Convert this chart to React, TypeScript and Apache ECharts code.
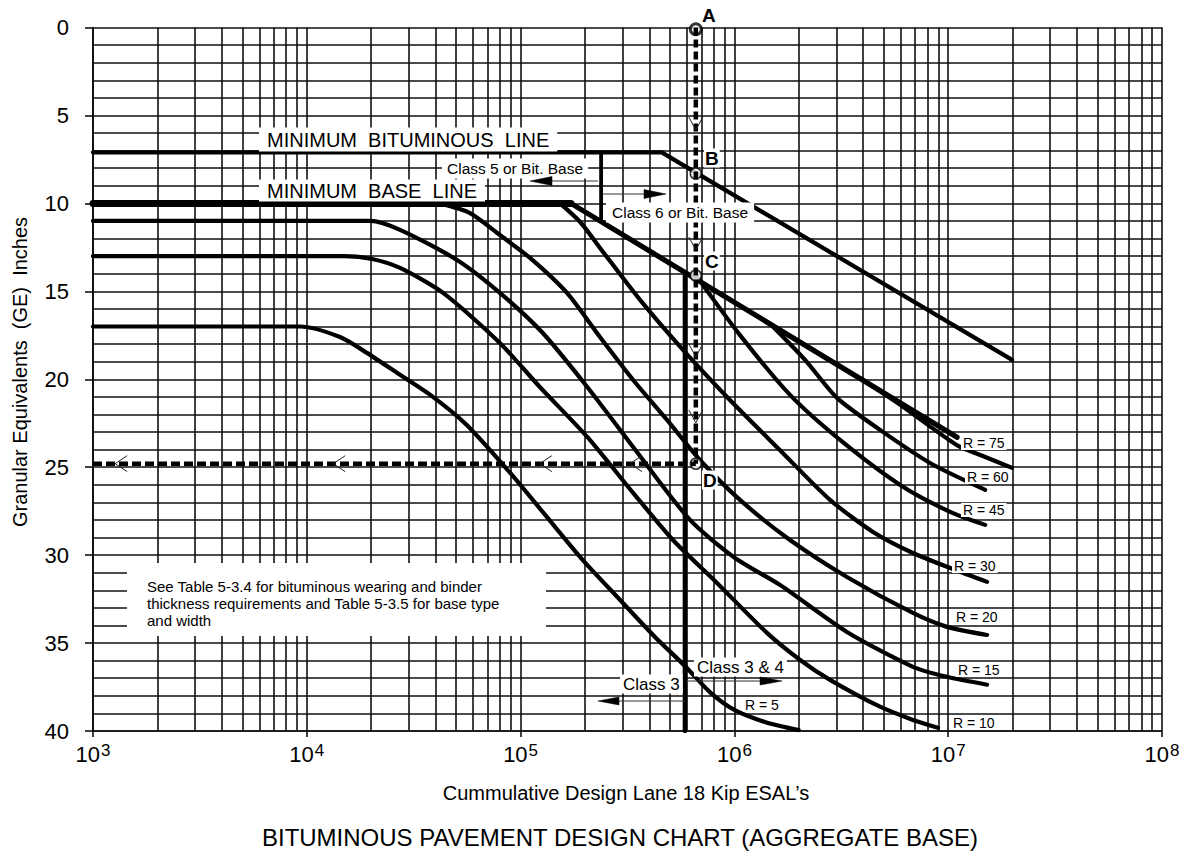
import React, { useEffect, useRef } from "react";
import * as echarts from "echarts";

const FONT = "'Liberation Sans', Arial, Helvetica, sans-serif";

// ---- Axis extents ----
const xMin = 1e3;
const xMax = 1e8;
const yMin = 0;
const yMax = 40;

// ---- Design limit lines ----
const minBituminousLine: [number, number][] = [[1e3, 7.1], [4.57e5, 7.1], [1.99e7, 18.9]];
const minBaseLine: [number, number][] = [[1e3, 10], [1.72e5, 10], [1.1e7, 23.3]];
const class5Divider: [number, number][] = [[2.38e5, 7.1], [2.38e5, 11.0]];
const class3Divider: [number, number][] = [[5.87e5, 13.9], [5.87e5, 40]];

// ---- R-value curves (ESAL, GE inches) ----
const curveR5: [number, number][] = [
  [1e3, 17], [9.3e3, 17], [1.43e4, 17.6], [1.91e4, 18.5], [2.73e4, 19.75], [3.89e4, 21.0],
  [5.6e4, 22.6], [8.9e4, 25.3], [1.3e5, 27.7], [1.96e5, 30.3], [2.92e5, 32.55], [4.25e5, 34.65],
  [5.87e5, 36.3], [7.7e5, 37.8], [1.0e6, 38.8], [1.4e6, 39.5], [2.0e6, 39.95],
];
const curveR10: [number, number][] = [
  [1e3, 13], [1.51e4, 13], [2.02e4, 13.16], [2.73e4, 13.67], [4.34e4, 15.09], [8.0e4, 17.94],
  [1.23e5, 20.44], [2.05e5, 23.28], [3.36e5, 26.46], [5.16e5, 29.14], [8.29e5, 31.58],
  [1.42e6, 34.42], [2.03e6, 35.96], [2.8e6, 37.09], [4.8e6, 38.62], [6.84e6, 39.37], [8.96e6, 39.82],
];
const curveR15: [number, number][] = [
  [1e3, 11], [1.98e4, 11], [2.73e4, 11.51], [5.04e4, 13.22], [8.0e4, 15.09], [1.27e5, 17.37],
  [2.05e5, 20.44], [3.36e5, 23.85], [6.2e5, 28.0], [1.007e6, 30.16], [1.63e6, 31.69],
  [3.36e6, 34.37], [6.84e6, 36.35], [9.87e6, 36.92], [1.52e7, 37.37],
];
const curveR20: [number, number][] = [
  [4.2e4, 10], [5.8e4, 10.55], [8.0e4, 11.8], [1.107e5, 13.1], [1.648e5, 15.09], [2.35e5, 17.6],
  [3.36e5, 20.04], [4.84e5, 22.31], [6.9e5, 24.59], [1.062e6, 26.86], [1.82e6, 29.14],
  [3.36e6, 31.24], [6.84e6, 33.29], [9.87e6, 34.08], [1.52e7, 34.54],
];
const curveR30: [number, number][] = [
  [1.528e5, 10], [1.9e5, 11.06], [2.43e5, 12.76], [3.62e5, 15.49], [5.75e5, 18.33], [9.53e5, 21.18],
  [1.63e6, 24.02], [2.8e6, 26.86], [4.45e6, 28.68], [6.84e6, 29.88], [1.05e7, 30.79], [1.52e7, 31.52],
];
const curveR45: [number, number][] = [
  [6.68e5, 14.18], [1.062e6, 17.49], [1.82e6, 20.89], [3.12e6, 23.45], [5.96e6, 26.01],
  [1.02e7, 27.54], [1.49e7, 28.28],
];
const curveR60: [number, number][] = [
  [1.52e6, 17.03], [2.14e6, 18.9], [3.02e6, 21.06], [4.8e6, 22.88], [8.22e6, 24.76], [1.49e7, 26.29],
];
const curveR75: [number, number][] = [
  [3.86e6, 19.93], [5.96e6, 21.45], [1.1e7, 23.75], [1.49e7, 24.42], [1.99e7, 25.04],
];

// ---- Design example (A -> B -> C -> D) ----
const designESAL = 6.6e5;
const designGE = 24.8;
const designVertical: [number, number][] = [[designESAL, 0], [designESAL, designGE]];
const designHorizontal: [number, number][] = [[1e3, designGE], [designESAL, designGE]];
const designPointNames = ["A", "B", "C", "D"];
const designPointGE = [0.1, 8.3, 14.1, 24.8];
const leftChevronESAL = [1.27e3, 1.33e4, 1.23e5, 3.25e5];
const downChevronGE = [5.83, 12.65, 18.73, 22.48];

export default function App() {
  const ref = useRef<HTMLDivElement>(null);

  useEffect(() => {
    const el = ref.current;
    if (!el) return;
    const chart = echarts.init(el, null, { renderer: "svg" });

    const minorGridX: number[] = [];
    for (let k = 3; k < 8; k++) {
      for (let m = 2; m <= 9; m++) minorGridX.push(m * Math.pow(10, k));
    }

    const gridLineStyle = { color: "#111", width: 1.6 };
    const curve = (name: string, data: [number, number][], width = 4.2, smooth: number | boolean = 0.25) => ({
      name,
      type: "line",
      data,
      showSymbol: false,
      symbol: "none",
      smooth,
      lineStyle: { color: "#000", width, cap: "round", join: "round" },
      z: 3,
      silent: true,
      animation: false,
    });

    const text = (t: string, x: number, y: number, size: number, opts: any = {}) => ({
      type: "text",
      x,
      y,
      z: 100,
      silent: true,
      style: {
        text: t,
        fontSize: size,
        fontFamily: FONT,
        fill: "#000",
        align: opts.align || "left",
        verticalAlign: opts.verticalAlign || "middle",
        fontWeight: opts.bold ? "bold" : "normal",
        backgroundColor: opts.bg ? "#fff" : undefined,
        padding: opts.padding || 0,
        lineHeight: opts.lineHeight,
      },
      rotation: opts.rotation || 0,
    });

    const arrowLine = (x1: number, y1: number, x2: number, y2: number) => ({
      type: "line",
      z: 100,
      silent: true,
      shape: { x1, y1, x2, y2 },
      style: { stroke: "#333", lineWidth: 1 },
    });
    const arrowHead = (pts: number[][]) => ({
      type: "polygon",
      z: 100,
      silent: true,
      shape: { points: pts },
      style: { fill: "#000", stroke: "#000", lineWidth: 0.5 },
    });

    const option: any = {
      animation: false,
      backgroundColor: "#fff",
      grid: { left: 93, right: 31, top: 27.5, bottom: 124, containLabel: false },
      xAxis: {
        type: "log",
        logBase: 10,
        min: xMin,
        max: xMax,
        splitNumber: 5,
        axisLine: { show: true, onZero: false, lineStyle: { color: "#111", width: 1.6 } },
        axisTick: { show: true, length: 6, lineStyle: { color: "#111", width: 1.6 } },
        splitLine: { show: true, lineStyle: gridLineStyle },
        axisLabel: {
          margin: 11,
          formatter: (v: number) => {
            const e = Math.round(Math.log10(v));
            return `{a|10}{b|${e}}`;
          },
          rich: {
            a: { fontSize: 22, fontFamily: FONT, color: "#000", lineHeight: 24 },
            b: { fontSize: 17, fontFamily: FONT, color: "#000", verticalAlign: "top", padding: [0, 0, 0, 1] },
          },
        },
      },
      yAxis: {
        type: "value",
        inverse: true,
        min: yMin,
        max: yMax,
        interval: 5,
        axisLine: { show: true, lineStyle: { color: "#111", width: 1.6 } },
        axisTick: { show: true, length: 8, lineStyle: { color: "#111", width: 1.6 } },
        minorTick: { show: false, splitNumber: 5 },
        splitLine: { show: true, lineStyle: gridLineStyle },
        minorSplitLine: { show: true, lineStyle: gridLineStyle },
        axisLabel: { fontSize: 22, fontFamily: FONT, color: "#000", margin: 24 },
      },
      series: [
        {
          name: "grid-minor-x",
          type: "lines",
          coordinateSystem: "cartesian2d",
          silent: true,
          z: 1,
          lineStyle: { color: "#111", width: 1.6, opacity: 1 },
          data: minorGridX.map((v) => ({ coords: [[v, yMin], [v, yMax]] })),
        },
        curve("Minimum Bituminous Line", minBituminousLine, 4.2, false),
        curve("Minimum Base Line (flat)", minBaseLine.slice(0, 2), 7, false),
        curve("Minimum Base Line", minBaseLine.slice(1), 5.2, false),
        curve("Class 5 divider", class5Divider, 3.8, false),
        curve("Class 3 divider", class3Divider, 4.5, false),
        curve("R = 5", curveR5),
        curve("R = 10", curveR10),
        curve("R = 15", curveR15),
        curve("R = 20", curveR20),
        curve("R = 30", curveR30),
        curve("R = 45", curveR45),
        curve("R = 60", curveR60),
        curve("R = 75", curveR75),
        {
          name: "design points",
          type: "scatter",
          symbol: "circle",
          symbolSize: 11,
          z: 5,
          silent: true,
          itemStyle: { color: "#fff", borderColor: "#000", borderWidth: 1.6 },
          data: designPointNames.map((n, i) => ({
            name: n,
            value: [designESAL, designPointGE[i]],
            itemStyle: i === 0 ? { borderWidth: 3 } : undefined,
          })),
        },
        {
          name: "design vertical",
          type: "line",
          data: designVertical,
          showSymbol: false,
          symbol: "none",
          z: 6,
          silent: true,
          lineStyle: { color: "#000", width: 4.5, type: [8, 4], cap: "butt" },
        },
        {
          name: "design horizontal",
          type: "line",
          data: designHorizontal,
          showSymbol: false,
          symbol: "none",
          z: 6,
          silent: true,
          lineStyle: { color: "#000", width: 4.5, type: [9, 4], cap: "butt" },
        },
        {
          name: "left chevrons",
          type: "custom",
          z: 7,
          silent: true,
          data: leftChevronESAL.map((x) => [x, designGE]),
          renderItem: (_p: any, api: any) => {
            const p = api.coord([api.value(0), api.value(1)]);
            return {
              type: "polyline",
              shape: { points: [[p[0] + 12, p[1] - 8], [p[0], p[1]], [p[0] + 12, p[1] + 8]] },
              style: { stroke: "#222", fill: "none", lineWidth: 1 },
            };
          },
        },
        {
          name: "down chevrons",
          type: "custom",
          z: 7,
          silent: true,
          data: downChevronGE.map((y) => [designESAL, y]),
          renderItem: (_p: any, api: any) => {
            const p = api.coord([api.value(0), api.value(1)]);
            return {
              type: "polyline",
              shape: { points: [[p[0] - 7, p[1] - 13], [p[0], p[1]], [p[0] + 7, p[1] - 13]] },
              style: { stroke: "#222", fill: "none", lineWidth: 1 },
            };
          },
        },
      ],
      graphic: {
        elements: [
          {
            type: "rect",
            z: 90,
            silent: true,
            shape: { x: 127, y: 563, width: 419, height: 73 },
            style: { fill: "#fff" },
          },
          text(
            "See Table 5-3.4 for bituminous wearing and binder\nthickness requirements and Table 5-3.5 for base type\nand width",
            147,
            578,
            15,
            { verticalAlign: "top", lineHeight: 17 }
          ),
          text("MINIMUM  BITUMINOUS  LINE", 259, 139.5, 20, { bg: true, padding: [2, 8] }),
          text("MINIMUM  BASE  LINE", 259, 190.5, 20, { bg: true, padding: [1, 8] }),
          text("Class 5 or Bit. Base", 442, 168.5, 15.5, { bg: true, padding: [2, 5] }),
          text("Class 6 or Bit. Base", 606, 212.5, 15.5, { bg: true, padding: [2, 6] }),
          text("Class 3 & 4", 694, 667, 17, { bg: true, padding: [1, 3] }),
          text("Class 3", 620, 684, 17, { bg: true, padding: [1, 3] }),
          arrowLine(552, 181, 598, 181),
          arrowHead([[530, 181], [552, 176.5], [552, 185.5]]),
          arrowLine(603, 194, 645, 194),
          arrowHead([[666, 194], [644, 189.5], [644, 198.5]]),
          arrowLine(686, 681, 760, 681),
          arrowHead([[782, 681], [760, 677], [760, 685]]),
          arrowLine(619, 701, 685, 701),
          arrowHead([[598, 701], [619, 697], [619, 705]]),
          text("R = 75", 961, 443, 14, { bg: true, padding: [0, 2] }),
          text("R = 60", 965, 477, 14, { bg: true, padding: [0, 2] }),
          text("R = 45", 961, 510, 14, { bg: true, padding: [0, 2] }),
          text("R = 30", 952, 566, 14, { bg: true, padding: [0, 2] }),
          text("R = 20", 954, 617, 14, { bg: true, padding: [0, 2] }),
          text("R = 15", 956, 670, 14, { bg: true, padding: [0, 2] }),
          text("R = 10", 951, 723, 14, { bg: true, padding: [0, 2] }),
          text("R = 5", 743, 705, 14, { bg: true, padding: [0, 2] }),
          text("A", 702, 15, 19, { bold: true }),
          text("B", 704, 158, 19, { bold: true, bg: true, padding: [0, 1] }),
          text("C", 704, 261, 19, { bold: true, bg: true, padding: [0, 1] }),
          text("D", 702, 480, 19, { bold: true, bg: true, padding: [0, 1] }),
          text("Granular Equivalents  (GE)  Inches", 20, 372, 20, {
            align: "center",
            rotation: Math.PI / 2,
          }),
          text("Cummulative Design Lane 18 Kip ESAL\u2019s", 626, 793, 20, { align: "center" }),
          text("BITUMINOUS PAVEMENT DESIGN CHART (AGGREGATE BASE)", 620, 837, 24, { align: "center" }),
        ],
      },
    };

    chart.setOption(option);
    return () => {
      chart.dispose();
    };
  }, []);

  return (
    <div
      ref={ref}
      style={{ position: "absolute", left: 0, top: 0, width: 1193, height: 855, background: "#fff" }}
    />
  );
}
